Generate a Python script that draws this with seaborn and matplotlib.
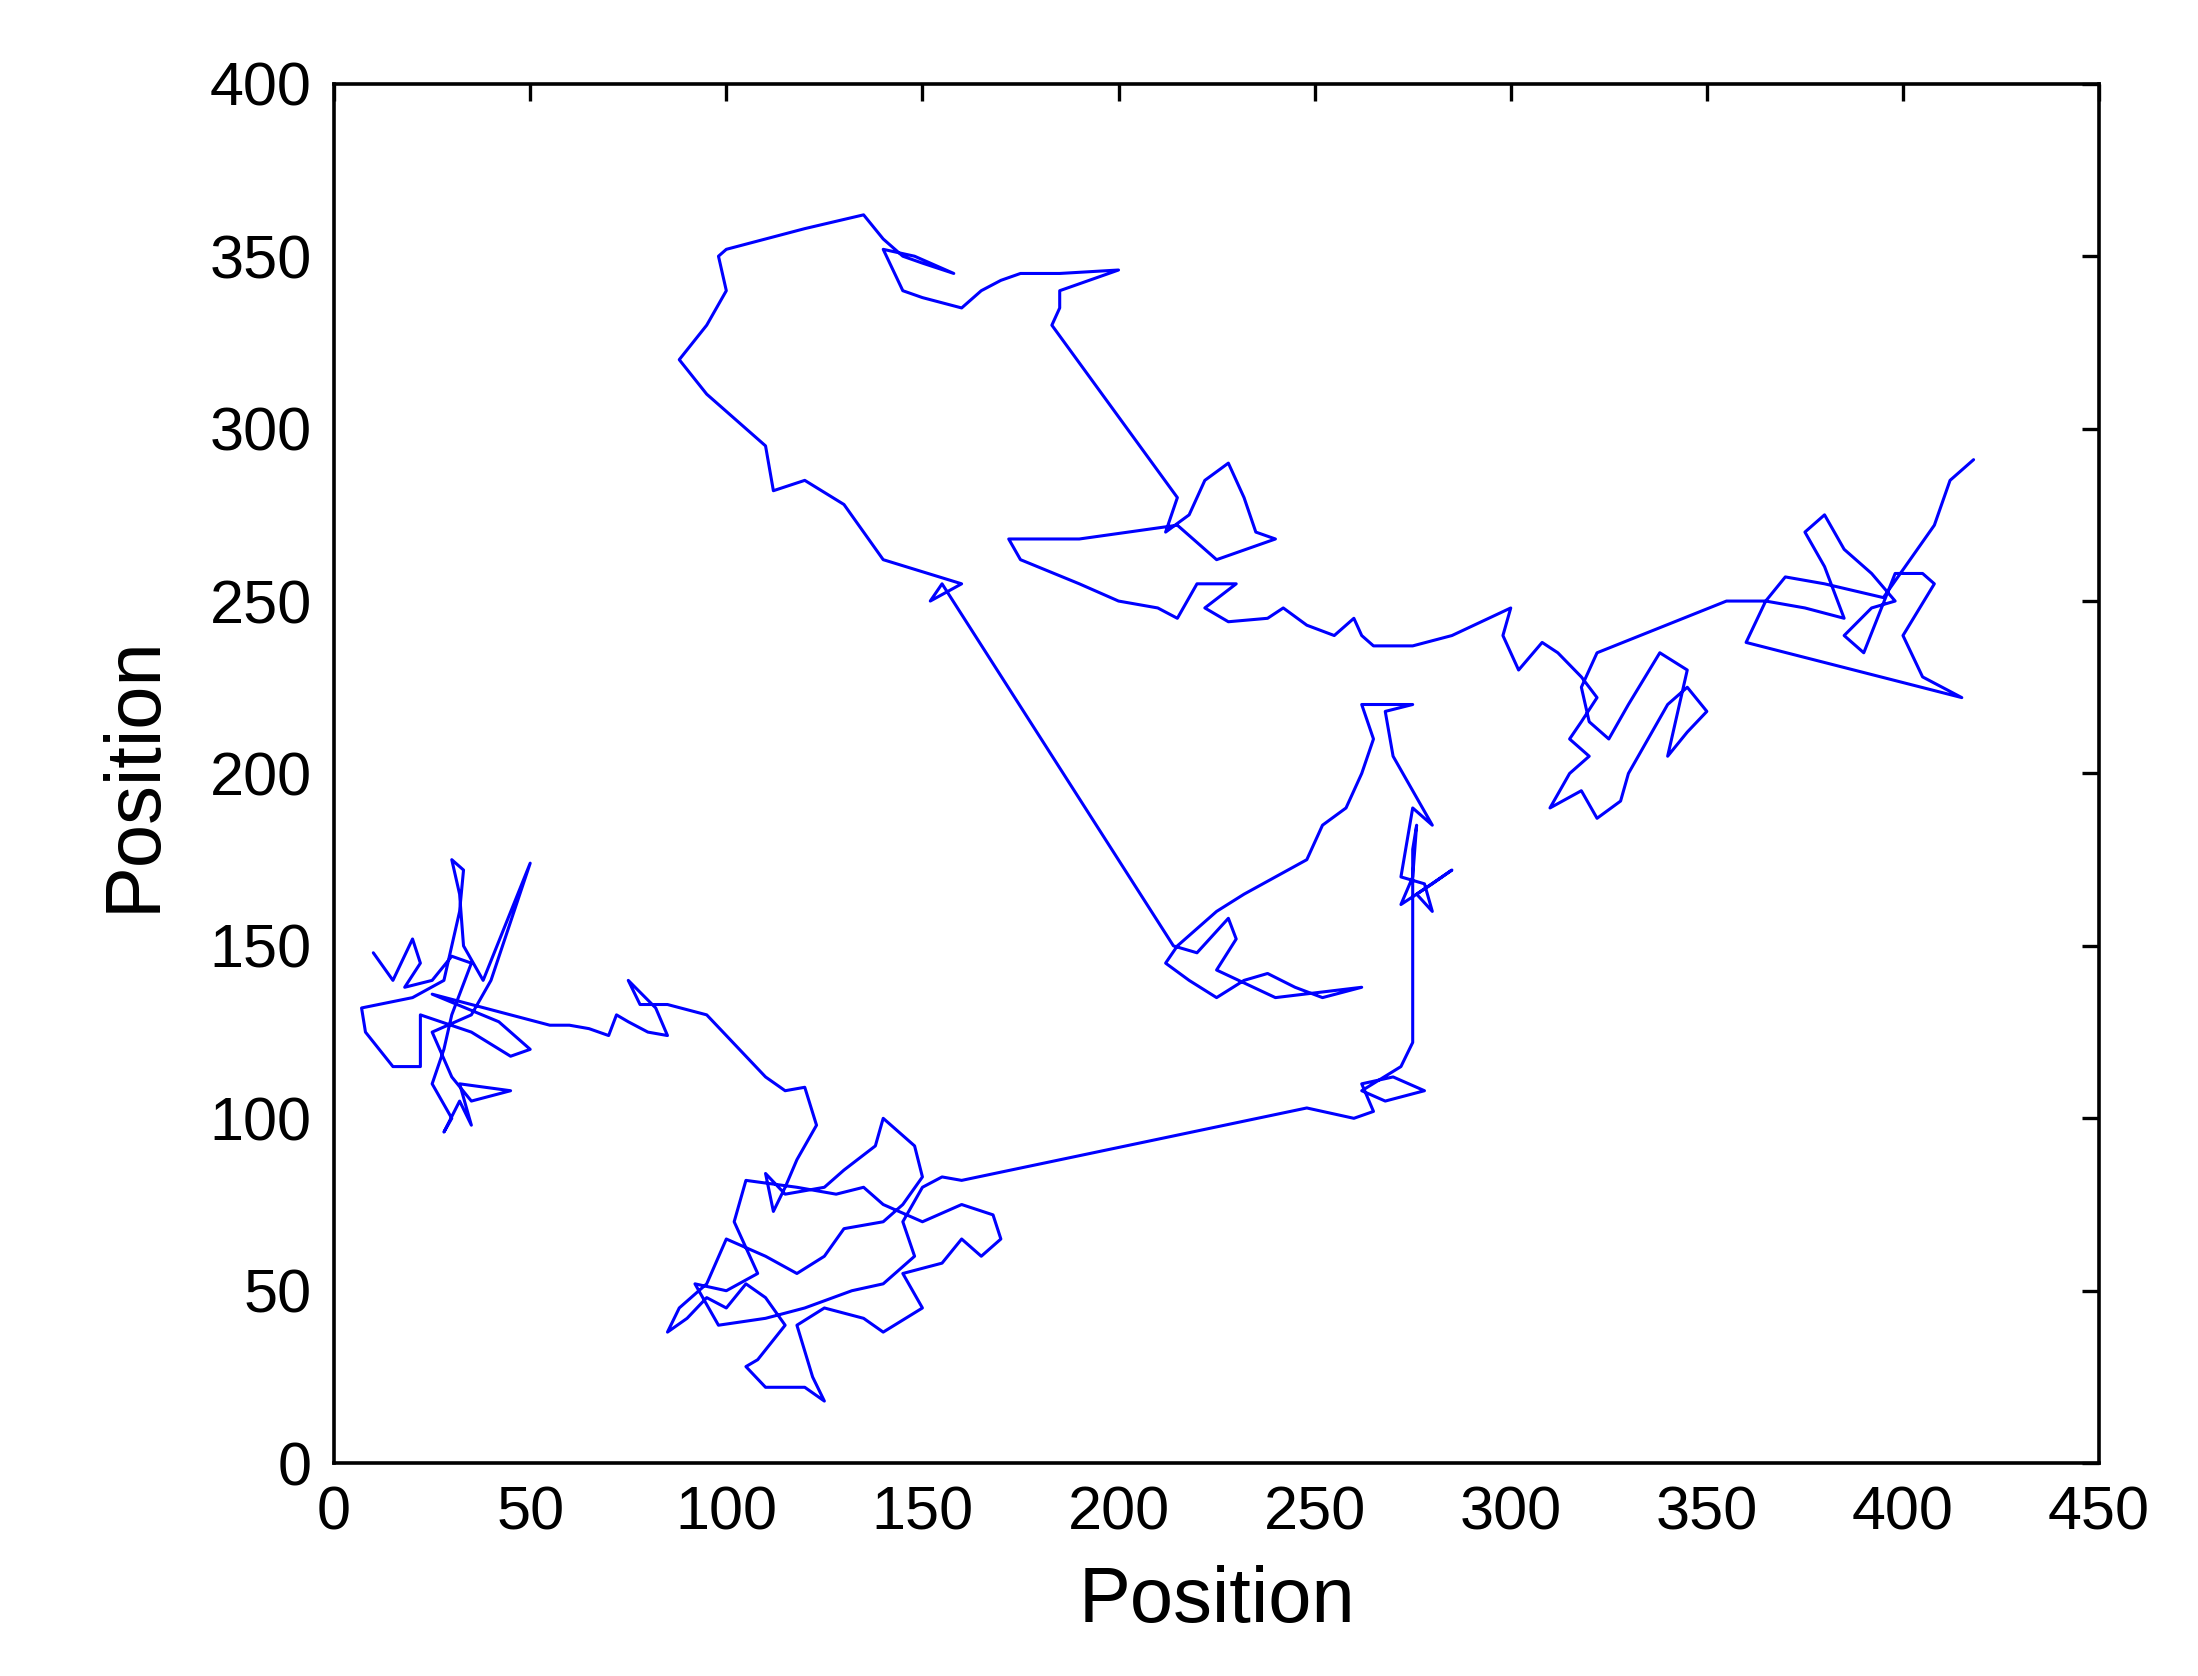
import matplotlib
matplotlib.use("Agg")
import matplotlib.pyplot as plt
import seaborn as sns
import pandas as pd

sns.set_theme(style="white")
plt.rcParams['font.family'] = ['Liberation Sans', 'DejaVu Sans']

pts = [(10,148),(15,140),(20,152),(22,145),(18,138),(25,140),(30,147),(35,145),(30,130),(28,120),(25,110),(30,100),(28,96),(32,105),(35,98),(32,110),(45,108),(35,105),(30,112),(25,125),(35,130),(40,140),(50,174),(38,140),(33,150),(32,165),(30,175),(33,172),(32,160),(28,140),(20,135),(7,132),(8,125),(15,115),(22,115),(22,130),(35,125),(45,118),(50,120),(42,128),(25,136),(45,130),(55,127),(60,127),(65,126),(70,124),(72,130),(75,128),(80,125),(85,124),(82,132),(75,140),(78,133),(85,133),(95,130),(100,124),(105,118),(110,112),(115,108),(120,109),(123,98),(118,88),(115,80),(112,73),(110,84),(115,78),(125,80),(130,85),(138,92),(140,100),(148,92),(150,83),(145,75),(140,70),(130,68),(125,60),(118,55),(110,60),(100,65),(95,52),(88,45),(85,38),(90,42),(95,48),(100,45),(105,52),(110,48),(115,40),(108,30),(105,28),(110,22),(120,22),(125,18),(122,25),(118,40),(125,45),(135,42),(140,38),(150,45),(145,55),(155,58),(160,65),(165,60),(170,65),(168,72),(160,75),(150,70),(140,75),(135,80),(128,78),(118,80),(105,82),(102,70),(108,55),(100,50),(92,52),(98,40),(110,42),(120,45),(132,50),(140,52),(148,60),(145,70),(150,80),(155,83),(160,82),(248,103),(260,100),(265,102),(262,110),(270,112),(278,108),(268,105),(262,108),(272,115),(275,122),(275,178),(276,185),(275,170),(272,162),(280,168),(285,172),(276,165),(280,160),(278,168),(272,170),(275,190),(280,185),(270,205),(268,218),(275,220),(262,220),(265,210),(262,200),(258,190),(252,185),(248,175),(240,170),(232,165),(225,160),(220,155),(215,150),(212,145),(218,140),(225,135),(232,140),(238,142),(245,138),(252,135),(262,138),(240,135),(225,143),(230,152),(228,158),(220,148),(214,150),(155,255),(152,250),(160,255),(140,262),(130,278),(120,285),(112,282),(110,295),(100,305),(95,310),(88,320),(95,330),(100,340),(98,350),(100,352),(110,355),(120,358),(135,362),(140,355),(145,350),(150,348),(158,345),(148,350),(140,352),(145,340),(150,338),(160,335),(165,340),(170,343),(175,345),(185,345),(200,346),(185,340),(185,335),(183,330),(215,280),(212,270),(218,275),(222,285),(228,290),(232,280),(235,270),(240,268),(225,262),(215,272),(190,268),(172,268),(175,262),(190,255),(200,250),(210,248),(215,245),(220,255),(230,255),(222,248),(228,244),(238,245),(242,248),(248,243),(255,240),(260,245),(262,240),(265,237),(275,237),(285,240),(300,248),(298,240),(302,230),(308,238),(312,235),(318,228),(322,222),(318,215),(315,210),(320,205),(315,200),(310,190),(318,195),(322,187),(328,192),(330,200),(335,210),(340,220),(345,225),(350,218),(345,212),(340,205),(345,230),(338,235),(330,220),(325,210),(320,215),(318,225),(322,235),(355,250),(365,250),(375,248),(385,245),(380,260),(375,270),(380,275),(385,265),(392,258),(398,250),(392,248),(385,240),(390,235),(398,258),(405,258),(408,255),(400,240),(405,228),(415,222),(360,238),(365,250),(370,257),(380,255),(395,251),(408,272),(412,285),(418,291)]
x_pos = [p[0] for p in pts]
y_pos = [p[1] for p in pts]

df = pd.DataFrame({"x": x_pos, "y": y_pos})

fig = plt.figure(figsize=(10.99, 8.38), dpi=200)
ax = fig.add_axes([0.152, 0.127, 0.803, 0.823])
sns.lineplot(data=df, x="x", y="y", sort=False, estimator=None, color="#0000ff", linewidth=1.1, ax=ax)
ax.set_xlim(0, 450)
ax.set_ylim(0, 400)
ax.set_xticks(range(0, 451, 50))
ax.set_yticks(range(0, 401, 50))
ax.tick_params(direction="in", length=6, width=1.2, top=True, right=True, labelsize=22, colors="black", pad=8)
for s in ax.spines.values():
    s.set_color("black"); s.set_linewidth(1.3)
ax.set_xlabel("Position", fontsize=28, labelpad=8, color="black")
ax.set_ylabel("Position", fontsize=28, labelpad=14, color="black")
fig.savefig("out.png", dpi=200)
